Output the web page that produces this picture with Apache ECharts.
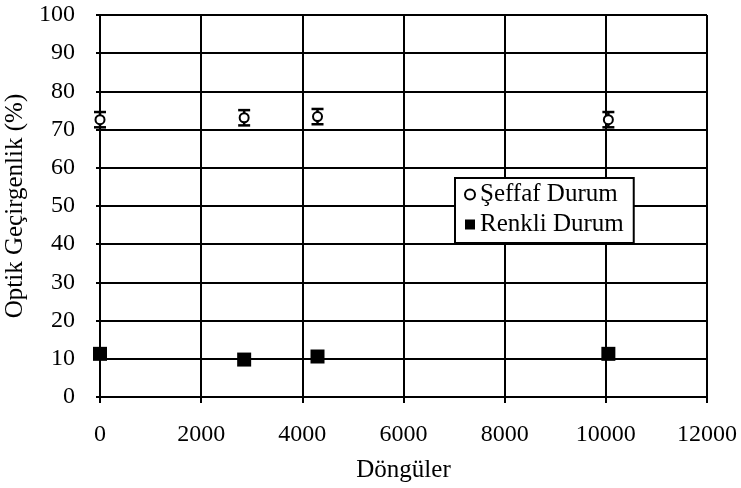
<!DOCTYPE html>
<html>
<head>
<meta charset="utf-8">
<script src="https://cdn.jsdelivr.net/npm/echarts@6/dist/echarts.min.js"></script>
<style>html,body{margin:0;padding:0;background:#fff;}#c{width:741px;height:488px;}</style>
</head>
<body>
<div id="c"></div>
<script>
const cycles = [0, 2850, 4300, 10050];
const seffaf = [72.6, 73.1, 73.4, 72.6];
const seffafErr = [2, 2, 2, 2];
const renkli = [11.3, 9.8, 10.6, 11.3];
const seriesNames = ['Şeffaf Durum', 'Renkli Durum'];

const font = 'Liberation Serif, Times New Roman, serif';
const chart = echarts.init(document.getElementById('c'));

const errData = cycles.map((x, i) => [x, seffaf[i] - seffafErr[i], seffaf[i] + seffafErr[i]]);

chart.setOption({
  animation: false,
  backgroundColor: '#fff',
  grid: {left: 100, right: 34, top: 15, bottom: 91, containLabel: false, outerBoundsMode: 'none'},
  xAxis: {
    type: 'value', min: 0, max: 12000, interval: 2000,
    name: 'Döngüler', nameLocation: 'middle', nameGap: 61,
    nameTextStyle: {fontFamily: font, fontSize: 25, color: '#000'},
    axisLine: {lineStyle: {color: '#000', width: 2}},
    axisTick: {show: true, length: 6, lineStyle: {color: '#000', width: 2}},
    axisLabel: {fontFamily: font, fontSize: 24, color: '#000', margin: 26,
      formatter: function (v) { return String(v); }},
    splitLine: {show: true, lineStyle: {color: '#000', width: 2}}
  },
  yAxis: {
    type: 'value', min: 0, max: 100, interval: 10,
    name: 'Optik Geçirgenlik (%)', nameLocation: 'middle', nameGap: 62,
    nameTextStyle: {fontFamily: font, fontSize: 25, color: '#000'},
    axisLine: {lineStyle: {color: '#000', width: 2}},
    axisTick: {show: true, length: 4, lineStyle: {color: '#000', width: 2}},
    axisLabel: {fontFamily: font, fontSize: 24, color: '#000', margin: 25},
    splitLine: {show: true, lineStyle: {color: '#000', width: 2}}
  },
  legend: {
    orient: 'vertical', left: 455, top: 178,
    backgroundColor: '#fff', borderColor: '#000', borderWidth: 2,
    padding: [4, 10, 6, 9], itemGap: 5, itemWidth: 10, itemHeight: 10,
    textStyle: {fontFamily: font, fontSize: 25, color: '#000'},
    data: [
      {name: seriesNames[0], icon: 'circle', itemStyle: {color: '#fff', borderColor: '#000', borderWidth: 2}},
      {name: seriesNames[1], icon: 'rect', itemStyle: {color: '#000'}}
    ]
  },
  series: [
    {
      type: 'custom', name: 'err', silent: true, z: 3,
      data: errData,
      renderItem: function (params, api) {
        const x = api.value(0);
        const lo = api.coord([x, api.value(1)]);
        const hi = api.coord([x, api.value(2)]);
        const w = 6;
        const style = {stroke: '#000', lineWidth: 2.5};
        return {type: 'group', children: [
          {type: 'line', shape: {x1: lo[0], y1: lo[1], x2: hi[0], y2: hi[1]}, style: style},
          {type: 'line', shape: {x1: hi[0] - w, y1: hi[1], x2: hi[0] + w, y2: hi[1]}, style: style},
          {type: 'line', shape: {x1: lo[0] - w, y1: lo[1], x2: lo[0] + w, y2: lo[1]}, style: style}
        ]};
      }
    },
    {
      type: 'scatter', name: seriesNames[0], z: 5,
      symbol: 'circle', symbolSize: 9,
      itemStyle: {color: '#fff', borderColor: '#000', borderWidth: 2, opacity: 1},
      data: cycles.map((x, i) => [x, seffaf[i]])
    },
    {
      type: 'scatter', name: seriesNames[1], z: 5,
      symbol: 'rect', symbolSize: 14,
      itemStyle: {color: '#000', opacity: 1},
      data: cycles.map((x, i) => [x, renkli[i]])
    }
  ]
});
</script>
</body>
</html>
